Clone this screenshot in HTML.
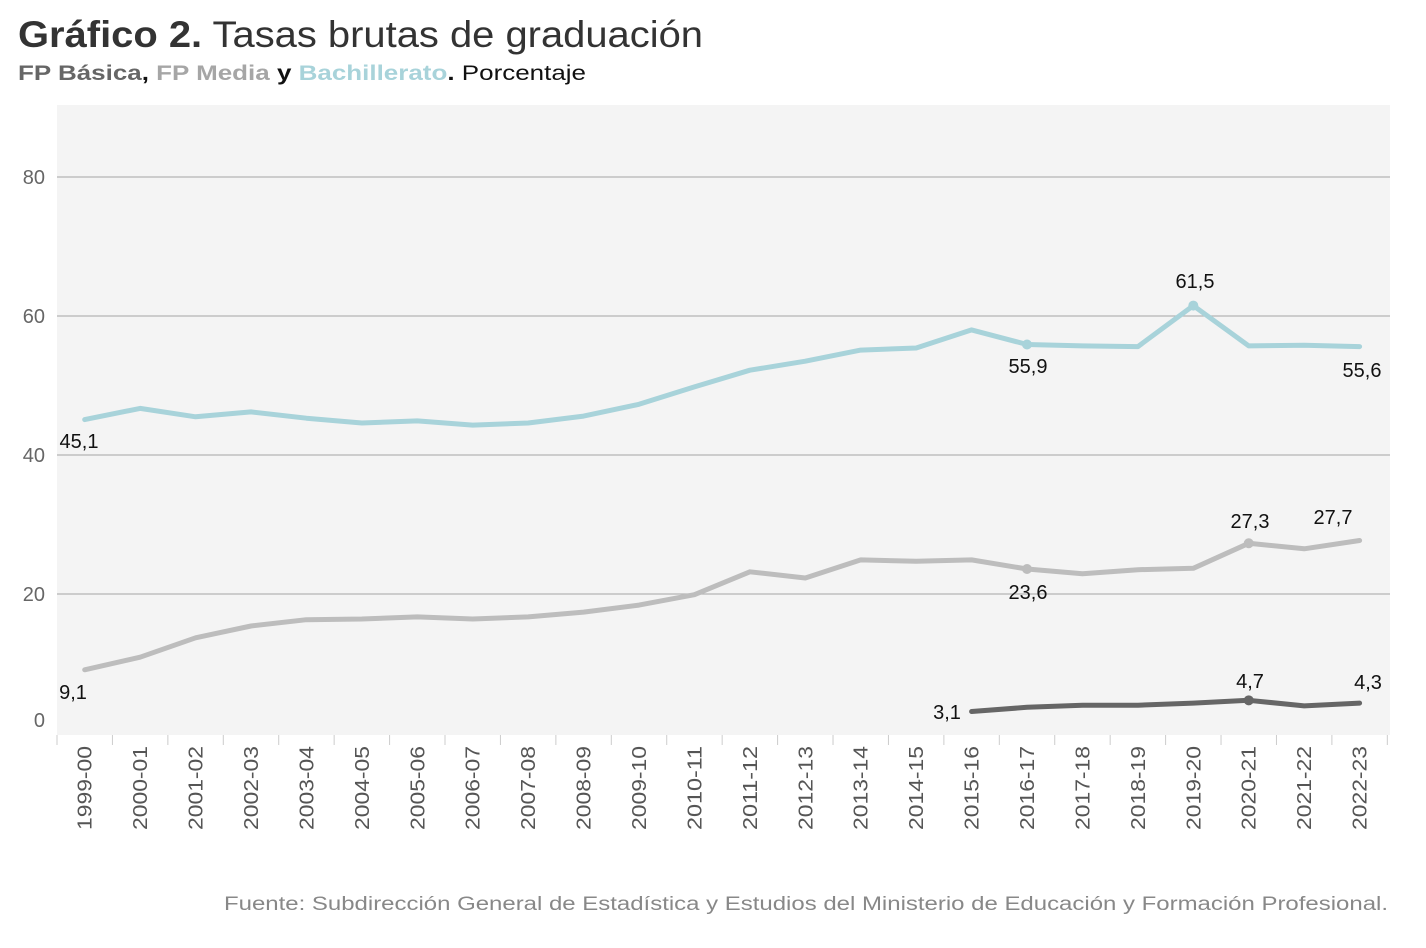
<!DOCTYPE html>
<html><head><meta charset="utf-8"><style>
html,body{margin:0;padding:0;background:#fff;}
svg{display:block;font-family:"Liberation Sans",Arial,sans-serif;}
</style></head><body>
<svg width="1426" height="948" viewBox="0 0 1426 948" xmlns="http://www.w3.org/2000/svg">
<text x="18" y="47" font-size="37" fill="#333" textLength="685" lengthAdjust="spacingAndGlyphs"><tspan font-weight="bold">Gráfico 2.</tspan> Tasas brutas de graduación</text>
<text x="18" y="80" font-size="21" textLength="568" lengthAdjust="spacingAndGlyphs"><tspan font-weight="bold" fill="#666">FP Básica</tspan><tspan font-weight="bold" fill="#111">, </tspan><tspan font-weight="bold" fill="#a6a6a6">FP Media</tspan><tspan font-weight="bold" fill="#111"> y </tspan><tspan font-weight="bold" fill="#a8d3da">Bachillerato</tspan><tspan font-weight="bold" fill="#111">.</tspan><tspan fill="#111"> Porcentaje</tspan></text>
<rect x="57" y="105" width="1333" height="630" fill="#f4f4f4"/>
<g stroke="#b5b5b5" stroke-width="1.3">
<line x1="57" x2="1390" y1="177" y2="177"/><line x1="57" x2="1390" y1="316" y2="316"/><line x1="57" x2="1390" y1="455" y2="455"/><line x1="57" x2="1390" y1="594" y2="594"/>
</g>
<g font-size="20" fill="#666" text-anchor="end">
<text x="45" y="184">80</text><text x="45" y="323">60</text><text x="45" y="462">40</text><text x="45" y="601">20</text><text x="45" y="727">0</text>
</g>
<g id="ticks" stroke="#ccc" stroke-width="1"></g>
<g id="xl" font-size="20" fill="#555" text-anchor="end"></g>
<g id="lines" fill="none" stroke-width="5" stroke-linejoin="round" stroke-linecap="round"></g>
<g id="lab" font-size="20" fill="#111" text-anchor="middle"></g>
<text x="1388" y="910" font-size="19" fill="#888" text-anchor="end" textLength="1164" lengthAdjust="spacingAndGlyphs">Fuente: Subdirección General de Estadística y Estudios del Ministerio de Educación y Formación Profesional.</text>
<script>
var ns="http://www.w3.org/2000/svg";
function el(p,t,a,txt){var e=document.createElementNS(ns,t);for(var k in a)e.setAttribute(k,a[k]);if(txt!=null)e.textContent=txt;document.getElementById(p).appendChild(e);return e;}
var step=55.43,x0=57;function X(i){return x0+step*(i+0.5);}function Y(v){return 733-v*6.95;}
for(var i=0;i<=24;i++){var x=x0+step*i;el("ticks","line",{x1:x,x2:x,y1:735,y2:745});}
for(var i=0;i<24;i++){var y=1999+i;var l=y+"-"+String((y+1)%100).padStart(2,"0");el("xl","text",{transform:"translate("+(X(i)+7)+",746) rotate(-90)",textLength:84,lengthAdjust:"spacingAndGlyphs"},l);}
var bach=[45.1,46.7,45.5,46.2,45.3,44.6,44.9,44.3,44.6,45.6,47.3,49.8,52.2,53.5,55.1,55.4,58.0,55.9,55.7,55.6,61.5,55.7,55.8,55.6];
var med=[9.1,10.9,13.7,15.4,16.3,16.4,16.7,16.4,16.7,17.4,18.4,19.9,23.2,22.3,24.9,24.7,24.9,23.6,22.9,23.5,23.7,27.3,26.5,27.7];
var bas=[null,null,null,null,null,null,null,null,null,null,null,null,null,null,null,null,3.1,3.7,4.0,4.0,4.3,4.7,3.9,4.3];
function line(d,c){var p=[];d.forEach(function(v,i){if(v!=null)p.push(X(i).toFixed(1)+","+Y(v).toFixed(1));});el("lines","polyline",{points:p.join(" "),stroke:c});}
line(bach,"#a8d3da");line(med,"#bdbdbd");line(bas,"#666");
function dot(i,v,c){el("lines","circle",{cx:X(i),cy:Y(v),r:5,fill:c,stroke:"none"});}
dot(17,55.9,"#a8d3da");dot(20,61.5,"#a8d3da");dot(17,23.6,"#bdbdbd");dot(21,27.3,"#bdbdbd");dot(21,4.7,"#666");
var L=[[79,448,"45,1"],[1028,373,"55,9"],[1195,288,"61,5"],[1362,377,"55,6"],[73,699,"9,1"],[1028,599,"23,6"],[1250,528,"27,3"],[1333,524,"27,7"],[947,719,"3,1"],[1250,688,"4,7"],[1368,689,"4,3"]];
L.forEach(function(a){el("lab","text",{x:a[0],y:a[1]},a[2]);});
</script>
</svg>
</body></html>
